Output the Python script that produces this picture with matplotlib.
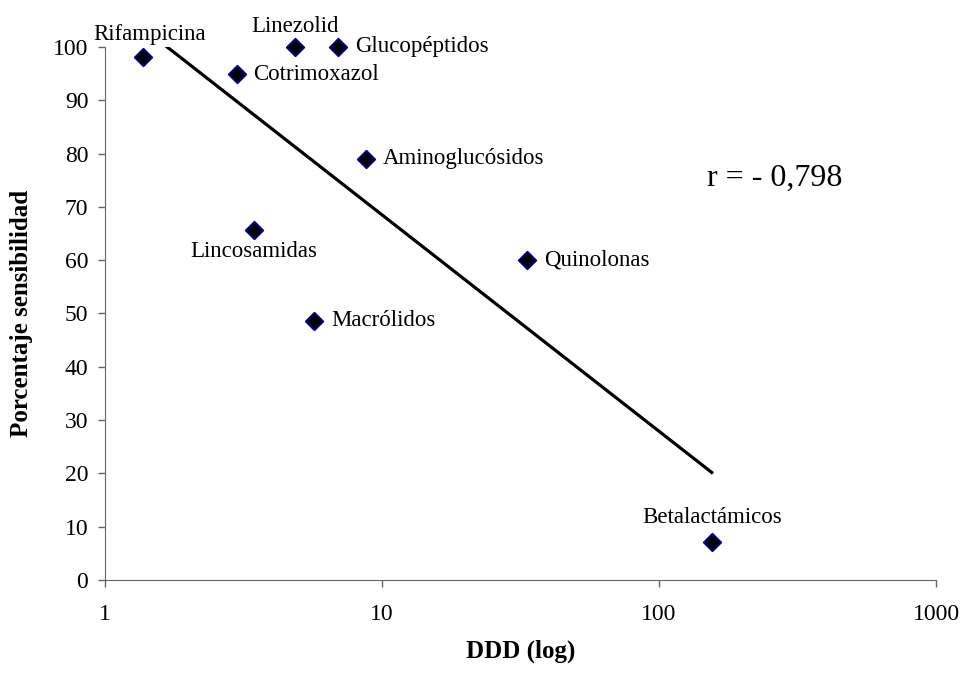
import numpy as np
import matplotlib
matplotlib.use('Agg')
import matplotlib.pyplot as plt
import matplotlib.ticker as mticker

# Antibiotic families: DDD (log axis) vs % sensitivity
families = ['Rifampicina', 'Linezolid', 'Glucopéptidos', 'Cotrimoxazol',
            'Aminoglucósidos', 'Lincosamidas', 'Quinolonas', 'Macrólidos',
            'Betalactámicos']
ddd = [1.37, 4.85, 6.95, 2.99, 8.75, 3.45, 33.4, 5.69, 155]
sens = [98.2, 100, 100, 94.9, 79, 65.7, 60, 48.6, 7.1]

# label offsets (points) and alignment for each family
offsets = {
    'Rifampicina': ((5, 8), 'center', 'bottom'),
    'Linezolid': ((0, 7), 'center', 'bottom'),
    'Glucopéptidos': ((12, 0), 'left', 'center'),
    'Cotrimoxazol': ((12, 0), 'left', 'center'),
    'Aminoglucósidos': ((12, 0), 'left', 'center'),
    'Lincosamidas': ((0, -8), 'center', 'top'),
    'Quinolonas': ((12, 0), 'left', 'center'),
    'Macrólidos': ((12, 0), 'left', 'center'),
    'Betalactámicos': ((0, 10), 'center', 'bottom'),
}

plt.rcParams['font.family'] = 'Liberation Serif'
plt.rcParams['font.size'] = 16

fig = plt.figure(figsize=(9.63, 6.8), dpi=100)
ax = fig.add_axes([0.109, 0.147, 0.863, 0.784])

# linear regression of sensitivity on log10(DDD)
lx = np.log10(ddd)
slope, icpt = np.polyfit(lx, sens, 1)
xs = np.logspace(lx.min(), lx.max(), 200)
ax.plot(xs, icpt + slope * np.log10(xs), color='black', linewidth=2.3)

ax.scatter(ddd, sens, marker='D', s=80, facecolor='black',
           edgecolor='#000080', linewidth=1.3, zorder=3, clip_on=False)

for name, x, y in zip(families, ddd, sens):
    off, ha, va = offsets[name]
    ax.annotate(name, (x, y), xytext=off, textcoords='offset points',
                ha=ha, va=va, fontsize=16.5, annotation_clip=False)

ax.text(0.725, 0.74, 'r = - 0,798', transform=ax.transAxes, fontsize=23)

ax.set_xscale('log')
ax.set_xlim(1, 1000)
ax.set_ylim(0, 100)
ax.set_yticks(range(0, 101, 10))
ax.xaxis.set_major_locator(mticker.FixedLocator([1, 10, 100, 1000]))
ax.xaxis.set_major_formatter(mticker.FormatStrFormatter('%g'))
ax.xaxis.set_minor_locator(mticker.NullLocator())

for s in ['top', 'right']:
    ax.spines[s].set_visible(False)
for s in ['left', 'bottom']:
    ax.spines[s].set_color('#666666')
ax.tick_params(direction='out', length=5, width=1, color='#666666',
               labelsize=17)
ax.tick_params(axis='x', pad=12)
ax.tick_params(axis='y', pad=7)

ax.set_xlabel('DDD (log)', fontsize=18, fontweight='bold', labelpad=11)
ax.set_ylabel('Porcentaje sensibilidad', fontsize=18, fontweight='bold',
              labelpad=14)

fig.savefig('out.png', dpi=100)
